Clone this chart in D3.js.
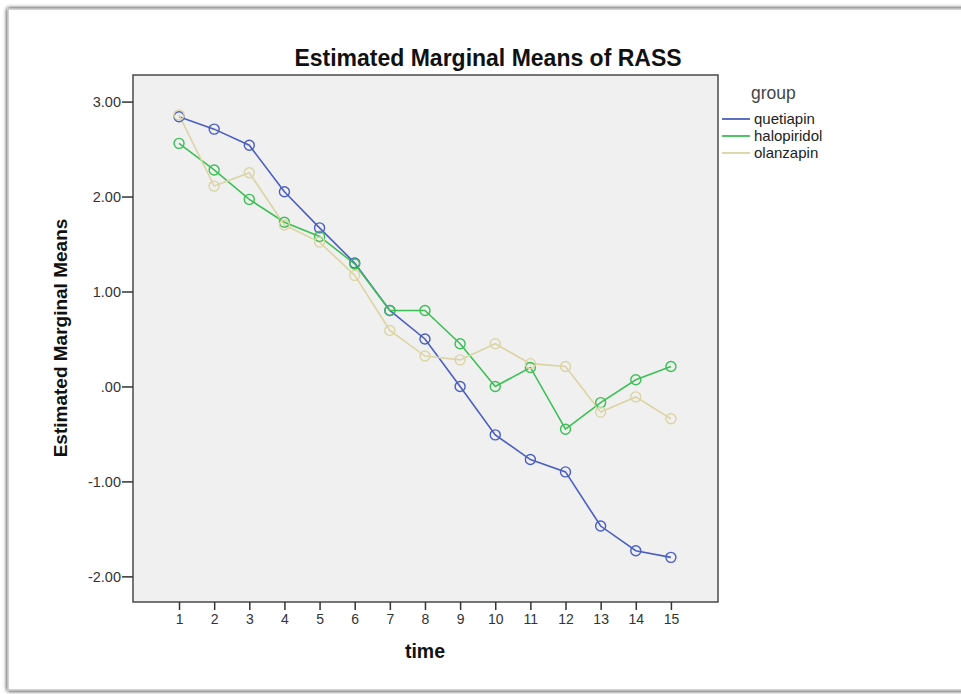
<!DOCTYPE html>
<html>
<head>
<meta charset="utf-8">
<script src="https://cdn.jsdelivr.net/npm/d3@7/dist/d3.min.js"></script>
<style>
  html, body { margin: 0; padding: 0; background: #ffffff; }
  svg { display: block; font-family: "Liberation Sans", Arial, sans-serif; }
</style>
</head>
<body>
<svg id="chart" width="961" height="694"></svg>
<script>
const times = [1,2,3,4,5,6,7,8,9,10,11,12,13,14,15];
const quetiapin   = [2.84, 2.71, 2.54, 2.05, 1.67, 1.30, 0.80, 0.50, 0.00, -0.51, -0.77, -0.90, -1.47, -1.73, -1.80];
const halopiridol = [2.56, 2.28, 1.97, 1.73, 1.58, 1.29, 0.80, 0.80, 0.45, 0.00, 0.20, -0.45, -0.17, 0.07, 0.21];
const olanzapin   = [2.86, 2.11, 2.25, 1.70, 1.52, 1.17, 0.59, 0.32, 0.28, 0.45, 0.24, 0.21, -0.27, -0.11, -0.34];
const groupNames  = ["quetiapin", "halopiridol", "olanzapin"];
const yTicks      = [3, 2, 1, 0, -1, -2];
const yTickLabels = ["3.00", "2.00", "1.00", ".00", "-1.00", "-2.00"];

const colors = ["#4a5fbf", "#3cbf55", "#dbd4a4"];
const seriesValues = [quetiapin, halopiridol, olanzapin];

const svg = d3.select("#chart");

// outer frame with shadow
const defs = svg.append("defs");
const f = defs.append("filter").attr("id", "sh").attr("x", "-5%").attr("y", "-5%").attr("width", "110%").attr("height", "110%");
f.append("feGaussianBlur").attr("in", "SourceAlpha").attr("stdDeviation", 2);
f.append("feOffset").attr("dx", 0).attr("dy", 0).attr("result", "b");
const fm = f.append("feMerge");
fm.append("feMergeNode").attr("in", "b");
fm.append("feMergeNode").attr("in", "SourceGraphic");
svg.append("rect").attr("x", 8).attr("y", 9).attr("width", 980).attr("height", 681)
  .attr("fill", "#ffffff").attr("stroke", "#c4c4c4").attr("stroke-width", 1.5)
  .attr("filter", "url(#sh)");

const L = 133, R = 718, T = 75, B = 602;

const x = d3.scaleLinear().domain([1 - 1.31, 15 + 1.34]).range([L, R]);
const y = d3.scaleLinear().domain([-2.27, 3.28]).range([B, T]);

// plot background
svg.append("rect").attr("x", L).attr("y", T).attr("width", R - L).attr("height", B - T)
  .attr("fill", "#f0f0f0").attr("stroke", "#4a4a4a").attr("stroke-width", 1.5);

// y axis
const yAxis = d3.axisLeft(y).tickValues(yTicks)
  .tickFormat((d, i) => yTickLabels[i]).tickSize(11).tickPadding(1);
const gy = svg.append("g").attr("transform", `translate(${L},0)`).call(yAxis);
gy.select(".domain").remove();
gy.selectAll(".tick line").attr("stroke", "#333").attr("stroke-width", 1.5);
gy.selectAll(".tick text").attr("fill", "#333").style("font-size", "14.5px");

// x axis
const xAxis = d3.axisBottom(x).tickValues(times).tickFormat(d3.format("d")).tickSize(8).tickPadding(4);
const gx = svg.append("g").attr("transform", `translate(0,${B})`).call(xAxis);
gx.select(".domain").remove();
gx.selectAll(".tick line").attr("stroke", "#333").attr("stroke-width", 1.5);
gx.selectAll(".tick text").attr("fill", "#333").style("font-size", "14px");

// lines and markers
const line = d3.line().x((d, i) => x(times[i])).y(d => y(d));
seriesValues.forEach((vals, k) => {
  svg.append("path").datum(vals).attr("d", line)
    .attr("fill", "none").attr("stroke", colors[k]).attr("stroke-width", 1.6);
});
seriesValues.forEach((vals, k) => {
  svg.append("g").selectAll("circle").data(vals).join("circle")
    .attr("cx", (d, i) => x(times[i])).attr("cy", d => y(d)).attr("r", 5)
    .attr("fill", "none").attr("stroke", colors[k]).attr("stroke-width", 1.4);
});

// title
svg.append("text").attr("x", 488).attr("y", 66).attr("text-anchor", "middle")
  .style("font-size", "23px").style("font-weight", "bold").attr("fill", "#111")
  .text("Estimated Marginal Means of RASS");

// axis titles
svg.append("text").attr("transform", "translate(67,338) rotate(-90)").attr("text-anchor", "middle")
  .style("font-size", "19px").style("font-weight", "bold").attr("fill", "#111")
  .text("Estimated Marginal Means");
svg.append("text").attr("x", 425).attr("y", 658).attr("text-anchor", "middle")
  .style("font-size", "19.5px").style("font-weight", "bold").attr("fill", "#111")
  .text("time");

// legend
svg.append("text").attr("x", 751).attr("y", 99).style("font-size", "17.5px").attr("fill", "#444").text("group");
const ly = [119, 136, 153];
groupNames.forEach((name, k) => {
  svg.append("line").attr("x1", 722).attr("x2", 750).attr("y1", ly[k]).attr("y2", ly[k])
    .attr("stroke", colors[k]).attr("stroke-width", 1.8);
  svg.append("text").attr("x", 754).attr("y", ly[k] + 5).style("font-size", "15px").attr("fill", "#222").text(name);
});
</script>
</body>
</html>
